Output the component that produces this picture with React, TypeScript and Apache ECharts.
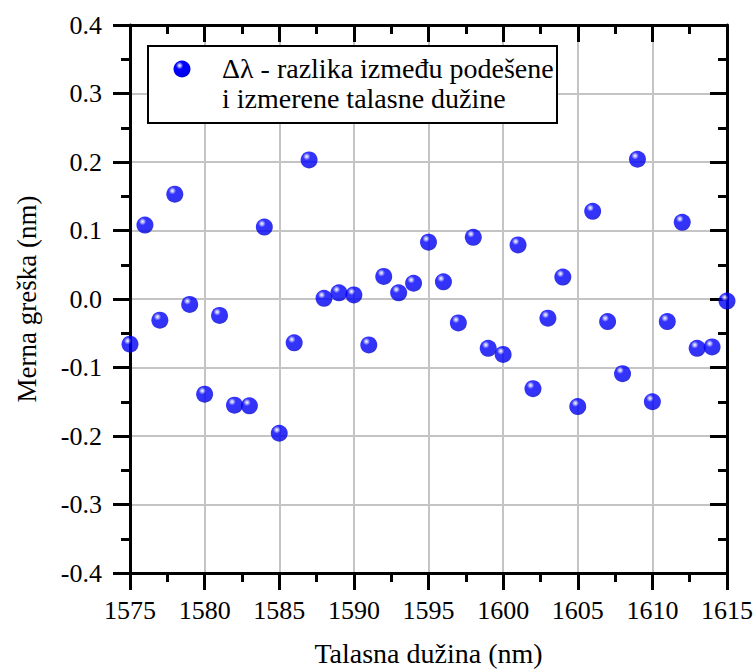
import React, { useEffect, useRef } from "react";
import * as echarts from "echarts";

const wavelengths = [
  1575, 1576, 1577, 1578, 1579, 1580, 1581, 1582, 1583, 1584, 1585, 1586, 1587, 1588,
  1589, 1590, 1591, 1592, 1593, 1594, 1595, 1596, 1597, 1598, 1599, 1600, 1601, 1602,
  1603, 1604, 1605, 1606, 1607, 1608, 1609, 1610, 1611, 1612, 1613, 1614, 1615,
];
const errors = [
  -0.066, 0.108, -0.031, 0.153, -0.008, -0.139, -0.024, -0.155, -0.156, 0.105, -0.196,
  -0.064, 0.203, 0.001, 0.009, 0.006, -0.067, 0.033, 0.009, 0.023, 0.083, 0.025, -0.035,
  0.09, -0.072, -0.081, 0.079, -0.131, -0.028, 0.032, -0.157, 0.128, -0.033, -0.109,
  0.204, -0.15, -0.033, 0.112, -0.072, -0.07, -0.003,
];
const legendLines = ["Δλ - razlika između podešene", "i izmerene talasne dužine"];
const xTitle = "Talasna dužina (nm)";
const yTitle = "Merna greška (nm)";

const FONT = "'Liberation Serif', 'Times New Roman', 'DejaVu Serif', serif";

function ball() {
  return new echarts.graphic.RadialGradient(0.36, 0.3, 0.72, [
    { offset: 0, color: "#ffffff" },
    { offset: 0.13, color: "#9a9aff" },
    { offset: 0.3, color: "#0000ff" },
    { offset: 0.85, color: "#0000f0" },
    { offset: 1, color: "#0000c0" },
  ]);
}

export default function App() {
  const ref = useRef<HTMLDivElement>(null);
  useEffect(() => {
    document.body.style.margin = "0";
    if (!ref.current) return;
    const chart = echarts.init(ref.current, undefined, { renderer: "svg" });
    const axisLine = { show: true, onZero: false, lineStyle: { color: "#000", width: 3 } };
    const minorTick = { show: true, splitNumber: 2, length: 9, lineStyle: { color: "#000", width: 3 } };
    const axisTick = { show: true, length: 17, lineStyle: { color: "#000", width: 3 } };
    const split = { show: true, lineStyle: { color: "#c4c4c4", width: 2 } };
    chart.setOption({
      animation: false,
      backgroundColor: "#fff",
      grid: { left: 130, right: 29, top: 25, bottom: 94 },
      xAxis: [
        {
          type: "value",
          position: "bottom",
          min: 1575,
          max: 1615,
          interval: 5,
          axisLine,
          axisTick: { ...axisTick, inside: false },
          minorTick,
          splitLine: split,
          axisLabel: {
            fontFamily: FONT,
            fontSize: 26,
            color: "#000",
            margin: 24,
            formatter: (v: number) => String(v),
          },
          name: xTitle,
          nameLocation: "middle",
          nameGap: 66,
          nameTextStyle: { fontFamily: FONT, fontSize: 28, color: "#000" },
        },
        {
          type: "value",
          position: "top",
          min: 1575,
          max: 1615,
          interval: 5,
          axisLine,
          axisTick: { ...axisTick, inside: true },
          minorTick,
          splitLine: { show: false },
          axisLabel: { show: false },
        },
      ],
      yAxis: [
        {
          type: "value",
          position: "left",
          min: -0.4,
          max: 0.4,
          interval: 0.1,
          axisLine,
          axisTick: { ...axisTick, inside: false },
          minorTick,
          splitLine: split,
          axisLabel: {
            fontFamily: FONT,
            fontSize: 26,
            color: "#000",
            margin: 28,
            formatter: (v: number) => v.toFixed(1),
          },
          name: yTitle,
          nameLocation: "middle",
          nameGap: 90,
          nameTextStyle: { fontFamily: FONT, fontSize: 27, color: "#000" },
        },
        {
          type: "value",
          position: "right",
          min: -0.4,
          max: 0.4,
          interval: 0.1,
          axisLine,
          axisTick: { ...axisTick, inside: true },
          minorTick,
          splitLine: { show: false },
          axisLabel: { show: false },
        },
      ],
      series: [
        {
          name: legendLines.join(" "),
          type: "scatter",
          xAxisIndex: 0,
          yAxisIndex: 0,
          symbol: "circle",
          symbolSize: 17,
          clip: true,
          itemStyle: { color: ball() },
          data: wavelengths.map((w, i) => [w, errors[i]]),
          z: 3,
        },
      ],
      graphic: [
        {
          type: "rect",
          shape: { x: 148, y: 46, width: 409, height: 77 },
          style: { fill: "#fff", stroke: "#000", lineWidth: 2 },
          z: 10,
        },
        {
          type: "circle",
          shape: { cx: 182, cy: 69, r: 8.5 },
          style: { fill: ball() },
          z: 11,
        },
        {
          type: "text",
          x: 222,
          y: 68,
          style: {
            text: legendLines[0],
            fontFamily: FONT,
            fontSize: 28,
            fill: "#000",
            verticalAlign: "middle",
          },
          z: 11,
        },
        {
          type: "text",
          x: 222,
          y: 98,
          style: {
            text: legendLines[1],
            fontFamily: FONT,
            fontSize: 28,
            fill: "#000",
            verticalAlign: "middle",
          },
          z: 11,
        },
      ],
    });
    return () => chart.dispose();
  }, []);
  return <div ref={ref} style={{ width: 756, height: 672 }} />;
}
